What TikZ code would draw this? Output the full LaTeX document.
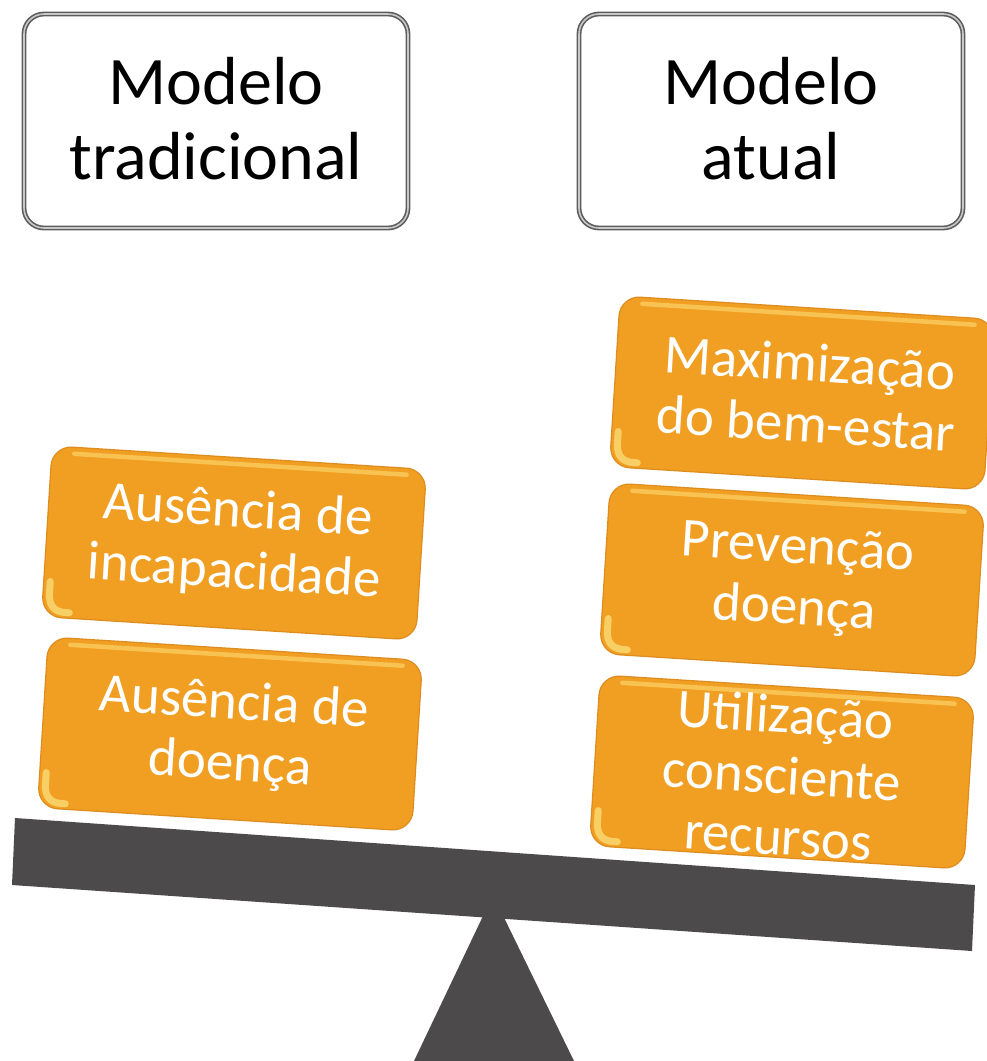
\documentclass[tikz,border=0pt]{standalone}
\usepackage{fontspec}
\setmainfont{Carlito}
\usetikzlibrary{calc}
\definecolor{boxorange}{RGB}{241,159,35}
\definecolor{edgeorange}{RGB}{222,140,30}
\definecolor{shineyellow}{RGB}{250,204,95}
\definecolor{cornerglow}{RGB}{252,228,130}
\definecolor{beamgray}{RGB}{77,74,75}
\definecolor{rimgray}{RGB}{92,92,92}
\definecolor{rimlight}{RGB}{200,200,200}
\tikzset{
  modelbox/.style={draw=rimgray, double=rimlight, double distance=1.6pt, line width=1.6pt,
    rounded corners=20pt, fill=white,
    minimum width=384pt, minimum height=214pt, inner sep=0pt},
  modeltext/.style={font=\fontsize{68}{75}\selectfont, align=center, text=black, inner sep=0pt},
  orangebox/.style={fill=boxorange, draw=edgeorange, line width=1.2pt, rounded corners=20pt,
    minimum width=375pt, minimum height=171pt, rotate=-3.6, inner sep=0pt},
  orangetext/.style={font=\fontsize{55}{61}\selectfont, align=center, text=white,
    rotate=-3.6, inner sep=0pt},
  topshine/.style={draw=shineyellow, line width=4.5pt, line cap=round, opacity=0.8},
  cornershine/.style={draw=cornerglow, line width=7pt, line cap=round, line join=round, opacity=0.7},
  beamfill/.style={fill=beamgray},
}
\newcommand{\boxshine}[1]{%
  \begin{scope}[shift={(#1.center)}, rotate=-3.6]
    \draw[topshine] (-165,-79) -- (168,-79);
    \draw[cornershine] (-181,50) -- (-181,62) .. controls (-181,74) and (-175,80) .. (-164,80) -- (-160,80);
  \end{scope}}
\begin{document}
\begin{tikzpicture}[x=1pt,y=-1pt]
\useasboundingbox[fill=white] (0,0) rectangle (986,1061);

% fulcrum and beam
\fill[beamfill] (493,895) -- (574,1061) -- (414,1061) -- cycle;
\fill[beamfill] (15,818) -- (975,885) -- (972,951) -- (12,885) -- cycle;

% header boxes
\node[modelbox] (trad) at (216,121) {};
\node[modeltext] (tradt) at (216,119) {Modelo\\tradicional};
\node[modelbox] (atual) at (771,121) {};
\node[modeltext] (atualt) at (771,119) {Modelo\\atual};

% left stack
\node[orangebox] (incap) at (234,543) {};
\boxshine{incap}
\node[orangetext] (incapt) at (236,543) {Ausência de\\incapacidade};
\node[orangebox] (doenca) at (230,734) {};
\boxshine{doenca}
\node[orangetext] (doencat) at (232,735) {Ausência de\\doença};

% right stack
\node[orangebox] (bem) at (802,393) {};
\boxshine{bem}
\node[orangetext] (bemt) at (808,393) {Maximização\\do bem-estar};
\node[orangebox] (prev) at (792,580) {};
\boxshine{prev}
\node[orangetext] (prevt) at (796,580) {Prevenção\\doença};
\node[orangebox] (recur) at (782,772) {};
\boxshine{recur}
\node[orangetext] (recurt) at (782,775) {Utilização\\consciente\\recursos};
\end{tikzpicture}
\end{document}
